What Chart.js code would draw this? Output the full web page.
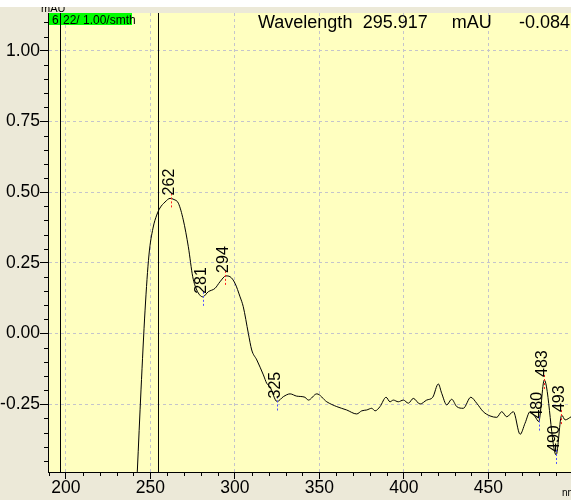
<!DOCTYPE html>
<html><head><meta charset="utf-8">
<script src="https://cdn.jsdelivr.net/npm/chart.js@4/dist/chart.umd.min.js"></script>
<style>html,body{margin:0;padding:0;background:#ECE9D8;overflow:hidden}#wrap{position:relative;width:571px;height:500px}</style>
</head><body><div id="wrap"><canvas id="c" width="571" height="500"></canvas></div>
<script>
// ---- data ----
const wavelengths = [242.3,244.5,246.9,249.2,251.6,253.8,255.7,258.7,261.7,264.0,266.6,269.5,272.5,275.1,277.5,281.0,284.3,288.3,291.2,294.8,297.2,300.1,303.1,305.0,308.0,310.0,313.0,316.9,318.9,320.8,325.0,328.7,332.7,336.6,341.5,343.5,348.5,354.4,360.3,366.2,372.1,375.1,378.0,381.0,383.0,385.9,389.5,391.8,393.8,396.7,399.7,402.7,405.6,409.6,413.5,417.1,420.4,422.4,425.4,428.3,431.3,435.2,439.6,443.1,447.0,451.0,455.0,457.9,460.9,464.8,468.8,471.7,474.7,477.7,479.8,483.1,490.1,493.4,495.4,499.0];
const absorbance = [-0.489,-0.199,0.083,0.278,0.373,0.419,0.444,0.465,0.478,0.474,0.461,0.402,0.307,0.201,0.154,0.130,0.148,0.160,0.183,0.204,0.201,0.178,0.130,0.095,0.001,-0.058,-0.093,-0.146,-0.176,-0.188,-0.240,-0.223,-0.213,-0.221,-0.225,-0.235,-0.213,-0.241,-0.258,-0.270,-0.284,-0.273,-0.270,-0.264,-0.273,-0.258,-0.225,-0.241,-0.235,-0.241,-0.235,-0.246,-0.229,-0.249,-0.235,-0.225,-0.178,-0.211,-0.252,-0.232,-0.258,-0.264,-0.225,-0.246,-0.276,-0.291,-0.296,-0.276,-0.294,-0.276,-0.356,-0.317,-0.276,-0.294,-0.311,-0.164,-0.429,-0.288,-0.305,-0.294];
const xMajorTicks = [200,250,300,350,400,450];
const xMinorTicks = [190,210,220,230,240,260,270,280,290,310,320,330,340,360,370,380,390,410,420,430,440,460,470,480,490];
const yMajorTicks = [-0.25,0.00,0.25,0.50,0.75,1.00];
const yMinorTicks = [-0.45,-0.40,-0.35,-0.30,-0.20,-0.15,-0.10,-0.05,0.05,0.10,0.15,0.20,0.30,0.35,0.40,0.45,0.55,0.60,0.65,0.70,0.80,0.85,0.90,0.95,1.05,1.10];
const peakWavelengths = [262,281,294,325,480,483,490,493];
const peakValues = [0.478,0.130,0.204,-0.240,-0.311,-0.164,-0.429,-0.288];
const peakKinds = ['max','min','max','min','min','max','min','max'];
const cursorWavelengths = [196.7,254.4];
const headerParts = ['Wavelength','295.917','mAU','-0.084'];
const traceLabelParts = ['6','22/ 1.00/smth'];
const yUnit = 'mAU';
const xUnit = 'nm';

const X_MIN = 189.47, X_MAX = 498.9, Y_MIN = -0.4892, Y_MAX = 1.1333;
const FONT = '"Liberation Sans", Arial, sans-serif';
const GRID = '#c4c4cc';

const bgPlugin = {
  id: 'bg',
  beforeDraw(chart) {
    const {ctx, chartArea: a} = chart;
    ctx.save();
    ctx.fillStyle = '#ECE9D8';
    ctx.fillRect(0, 0, chart.width, chart.height);
    ctx.fillStyle = '#FFFFC0';
    ctx.fillRect(a.left, a.top, a.right - a.left, a.bottom - a.top);
    ctx.restore();
  }
};

const overlayPlugin = {
  id: 'overlay',
  afterDraw(chart) {
    const {ctx, chartArea: a} = chart;
    const xs = chart.scales.x, ys = chart.scales.y;
    ctx.save();
    // minor tick marks
    ctx.strokeStyle = '#000';
    ctx.lineWidth = 1;
    ctx.beginPath();
    xMinorTicks.forEach(v => {
      const px = Math.round(xs.getPixelForValue(v)) + 0.5;
      ctx.moveTo(px, a.bottom); ctx.lineTo(px, a.bottom + 4);
    });
    yMinorTicks.forEach(v => {
      const py = Math.round(ys.getPixelForValue(v)) + 0.5;
      ctx.moveTo(a.left - 4, py); ctx.lineTo(a.left, py);
    });
    ctx.stroke();
    // trace label box
    ctx.fillStyle = '#00FF00';
    ctx.fillRect(a.left + 1, a.top, 83, 12);
    ctx.fillStyle = '#000';
    ctx.font = '12px ' + FONT;
    ctx.textBaseline = 'alphabetic';
    ctx.textAlign = 'left';
    ctx.fillText(traceLabelParts[0], a.left + 4, a.top + 10.5);
    ctx.fillText(traceLabelParts[1], a.left + 15, a.top + 10.5);
    // cursor lines
    ctx.strokeStyle = '#000';
    cursorWavelengths.forEach(w => {
      const px = Math.round(xs.getPixelForValue(w)) + 0.5;
      ctx.beginPath(); ctx.moveTo(px, a.top); ctx.lineTo(px, a.bottom); ctx.stroke();
    });
    // peak markers and labels
    peakWavelengths.forEach((w, i) => {
      const px = Math.round(xs.getPixelForValue(w)) + 0.5;
      const py = ys.getPixelForValue(peakValues[i]);
      ctx.save();
      ctx.strokeStyle = peakKinds[i] === 'max' ? '#ff2020' : '#5050ff';
      ctx.setLineDash([2, 2]);
      ctx.beginPath(); ctx.moveTo(px, py - 5); ctx.lineTo(px, py + 10); ctx.stroke();
      ctx.restore();
      ctx.save();
      ctx.translate(px, py - 3);
      ctx.rotate(-Math.PI / 2);
      ctx.fillStyle = '#000';
      ctx.font = '16px ' + FONT;
      ctx.textAlign = 'left';
      ctx.textBaseline = 'middle';
      ctx.fillText(String(w), 0, -1.5);
      ctx.restore();
    });
    // header
    ctx.fillStyle = '#000';
    ctx.font = '18px ' + FONT;
    ctx.textAlign = 'left';
    ctx.textBaseline = 'alphabetic';
    const hx = [258, 362.7, 451.7, 519];
    headerParts.forEach((t, i) => ctx.fillText(t, hx[i], 27.5));
    // units
    ctx.font = '11px ' + FONT;
    ctx.fillText(yUnit, 41, 12);
    ctx.font = '10px ' + FONT;
    ctx.fillText(xUnit, 562, 495.5);
    // white strip on top
    ctx.fillStyle = '#ffffff';
    ctx.fillRect(0, 0, chart.width, 7);
    ctx.restore();
  }
};

new Chart(document.getElementById('c'), {
  type: 'line',
  data: {
    datasets: [{
      data: wavelengths.map((w, i) => ({x: w, y: absorbance[i]})),
      borderColor: '#000',
      borderWidth: 1,
      pointRadius: 0,
      cubicInterpolationMode: 'monotone',
      fill: false
    }]
  },
  options: {
    responsive: false,
    animation: false,
    devicePixelRatio: 1,
    layout: {padding: {top: 13, left: 0, right: 0, bottom: 0}},
    plugins: {legend: {display: false}, tooltip: {enabled: false}},
    scales: {
      x: {
        type: 'linear', min: X_MIN, max: X_MAX,
        afterBuildTicks: s => { s.ticks = xMajorTicks.map(v => ({value: v})); },
        afterFit: s => { s.height = 28; },
        ticks: {autoSkip: false, maxRotation: 0, color: '#000', font: {family: FONT, size: 17.5}, padding: -1, callback: v => String(v)},
        grid: {color: GRID, lineWidth: 1, tickColor: '#000', tickLength: 7},
        border: {display: true, color: '#000', width: 1, dash: [3, 3]}
      },
      y: {
        type: 'linear', min: Y_MIN, max: Y_MAX,
        afterBuildTicks: s => { s.ticks = yMajorTicks.map(v => ({value: v})); },
        afterFit: s => { s.width = 48; },
        ticks: {autoSkip: false, color: '#000', font: {family: FONT, size: 17.5}, padding: 0, callback: v => v.toFixed(2)},
        grid: {color: GRID, lineWidth: 1, tickColor: '#000', tickLength: 8},
        border: {display: true, color: '#000', width: 1, dash: [3, 3]}
      }
    }
  },
  plugins: [bgPlugin, overlayPlugin]
});
</script>
</body></html>
